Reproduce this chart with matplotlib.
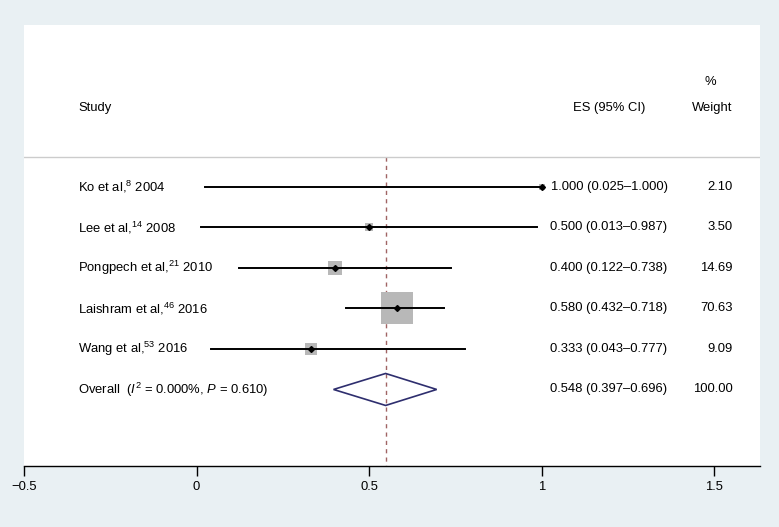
import matplotlib.pyplot as plt
from matplotlib.patches import Polygon

plt.rcParams["font.family"] = ["Liberation Sans", "DejaVu Sans"]
plt.rcParams["mathtext.fontset"] = "custom"
plt.rcParams["mathtext.rm"] = "Liberation Sans"
plt.rcParams["mathtext.it"] = "Liberation Sans:italic"

# data
autores = ["Ko et al,", "Lee et al,", "Pongpech et al,", "Laishram et al,", "Wang et al,"]
referencias = ["8", "14", "21", "46", "53"]
anos = ["2004", "2008", "2010", "2016", "2016"]
es = [1.000, 0.500, 0.400, 0.580, 0.333]
ic_inf = [0.025, 0.013, 0.122, 0.432, 0.043]
ic_sup = [1.000, 0.987, 0.738, 0.718, 0.777]
pesos = [2.10, 3.50, 14.69, 70.63, 9.09]

es_global = 0.548
ic_global = (0.397, 0.696)
peso_total = 100.00
i2_texto = "0.000%"
p_texto = "0.610"

xticks = [-0.5, 0, 0.5, 1, 1.5]
xtick_labels = ["\u22120.5", "0", "0.5", "1", "1.5"]

FUNDO = "#e9f0f3"
FONTE = 9.4

fig = plt.figure(figsize=(7.79, 5.27), dpi=100, facecolor=FUNDO)
W, H = 779, 527
ax = fig.add_axes([24 / W, (H - 466) / H, (760 - 24) / W, (466 - 25) / H])
ax.set_facecolor("white")

# y in row units: row 0 = first study
ax.set_xlim(-0.5, 1.633)
ax.set_ylim(6.89, -4.0)

x_texto = -0.343
x_es = 1.365
x_peso = 1.554

# headers
ax.text(x_texto, -1.95, "Study", fontsize=FONTE, va="center", ha="left")
ax.text(1.301, -1.95, "ES (95% CI)", fontsize=FONTE, va="center", ha="right")
ax.text(x_peso, -1.95, "Weight", fontsize=FONTE, va="center", ha="right")
ax.text(1.49, -2.59, "%", fontsize=FONTE, va="center", ha="center")
ax.axhline(-0.74, color="#cccccc", lw=1.0)

# reference line at the pooled estimate
ax.plot([es_global, es_global], [-0.74, 6.89], color="#a06464", lw=1.0,
        linestyle=(0, (3, 3)), zorder=1)

escala = (32 * 0.72) ** 2 / 70.63
for i in range(len(es)):
    rotulo = f"{autores[i]}$^{{{referencias[i]}}}$ {anos[i]}"
    ax.text(x_texto, i, rotulo, fontsize=FONTE, va="center", ha="left")
    ax.scatter([es[i]], [i], marker="s", s=pesos[i] * escala, color="#b8b8b8",
               linewidths=0, zorder=2)
    ax.plot([ic_inf[i], ic_sup[i]], [i, i], color="black", lw=1.4, zorder=3)
    ax.plot([es[i]], [i], marker="D", color="black", markersize=3, zorder=4)
    ax.text(x_es, i, f"{es[i]:.3f} ({ic_inf[i]:.3f}\u2013{ic_sup[i]:.3f})",
            fontsize=FONTE, va="center", ha="right")
    ax.text(x_peso, i, f"{pesos[i]:.2f}", fontsize=FONTE, va="center", ha="right")

# overall diamond
y_g = len(es)
h = 0.395
diamante = Polygon([(ic_global[0], y_g), (es_global, y_g - h),
                    (ic_global[1], y_g), (es_global, y_g + h)],
                   closed=True, fill=False, edgecolor="#2e2e6e", lw=1.2, zorder=3)
ax.add_patch(diamante)
ax.text(x_texto, y_g, f"Overall  ($I^2$ = {i2_texto}, $P$ = {p_texto})",
        fontsize=FONTE, va="center", ha="left")
ax.text(x_es, y_g, f"{es_global:.3f} ({ic_global[0]:.3f}\u2013{ic_global[1]:.3f})",
        fontsize=FONTE, va="center", ha="right")
ax.text(x_peso, y_g, f"{peso_total:.2f}", fontsize=FONTE, va="center", ha="right")

for lado in ["top", "left", "right"]:
    ax.spines[lado].set_visible(False)
ax.spines["bottom"].set_linewidth(1.0)
ax.set_yticks([])
ax.set_xticks(xticks)
ax.set_xticklabels(xtick_labels)
ax.tick_params(axis="x", length=7, width=1.0, labelsize=FONTE, pad=4)

fig.savefig("out.png", dpi=100, facecolor=FUNDO)
